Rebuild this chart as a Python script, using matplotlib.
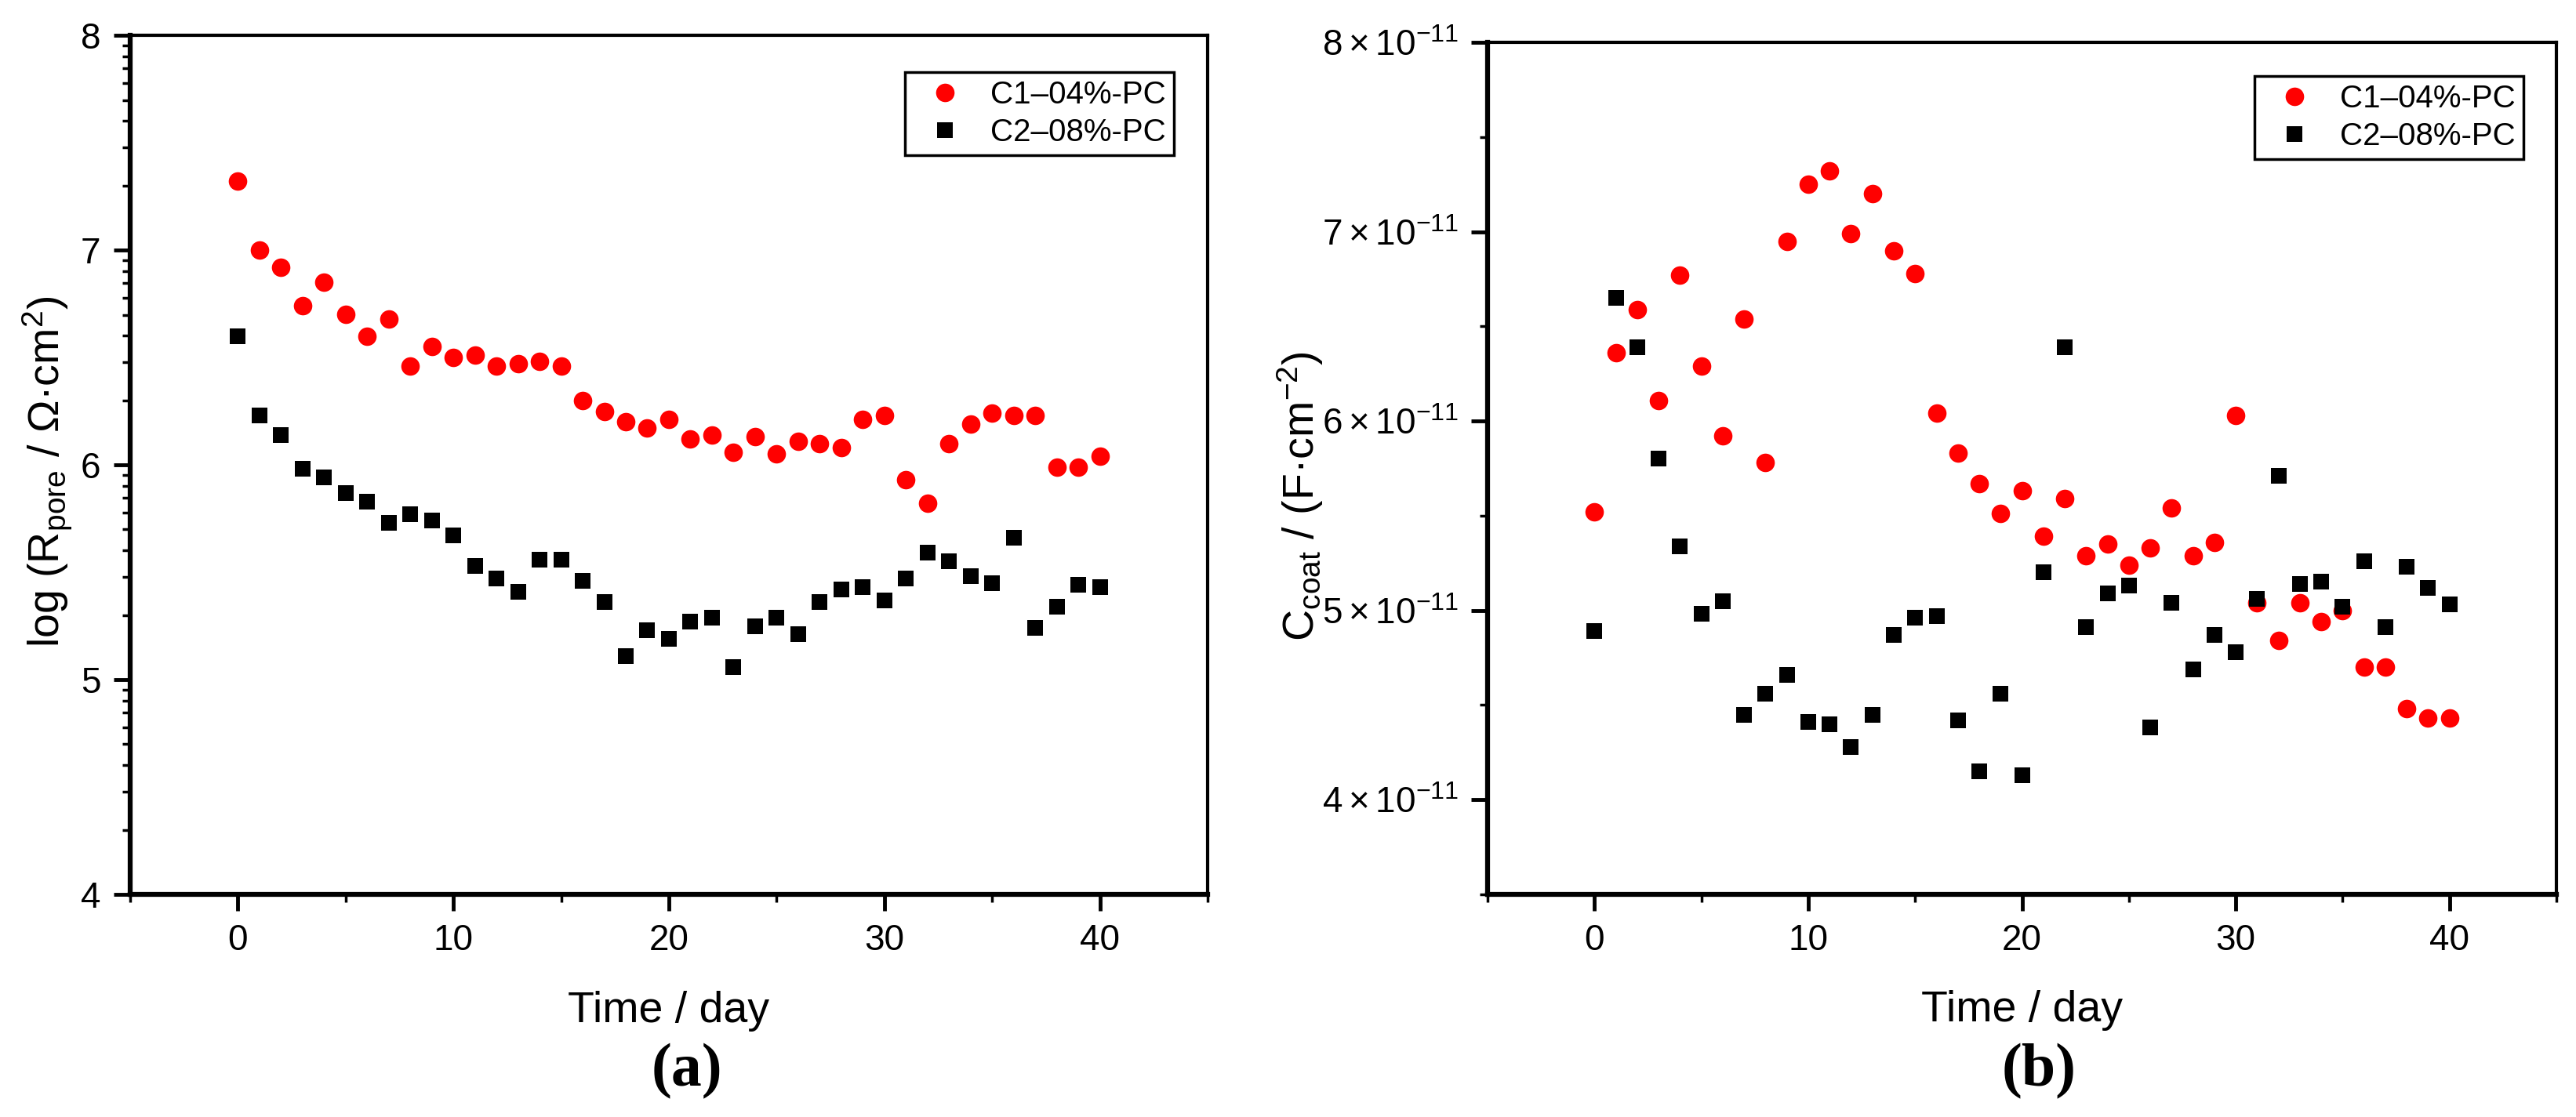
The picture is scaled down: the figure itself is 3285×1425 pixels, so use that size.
import numpy as np
import matplotlib
matplotlib.use('Agg')
import matplotlib.pyplot as plt
from matplotlib.ticker import MultipleLocator, FixedLocator, FuncFormatter

plt.rcParams['font.family'] = ['Liberation Sans', 'DejaVu Sans']
plt.rcParams['mathtext.fontset'] = 'custom'
plt.rcParams['mathtext.rm'] = 'Liberation Sans'
plt.rcParams['mathtext.it'] = 'Liberation Sans:italic'
plt.rcParams['mathtext.bf'] = 'Liberation Sans:bold'

# Days of immersion
days = list(range(41))
series_names = ['C1–04%-PC', 'C2–08%-PC']

# (a) log(R_pore / ohm cm2)
rpore_c1 = [7.32, 7.00, 6.92, 6.74, 6.85, 6.70, 6.60, 6.68, 6.46, 6.55,
            6.50, 6.51, 6.46, 6.47, 6.48, 6.46, 6.30, 6.25, 6.20, 6.17,
            6.21, 6.12, 6.14, 6.06, 6.13, 6.05, 6.11, 6.10, 6.08, 6.21,
            6.23, 5.93, 5.82, 6.10, 6.19, 6.24, 6.23, 6.23, 5.99, 5.99, 6.04]
rpore_c2 = [6.60, 6.23, 6.14, 5.98, 5.94, 5.87, 5.83, 5.73, 5.77, 5.74,
            5.67, 5.53, 5.47, 5.41, 5.56, 5.56, 5.46, 5.36, 5.11, 5.23,
            5.19, 5.27, 5.29, 5.06, 5.25, 5.29, 5.21, 5.36, 5.42, 5.43,
            5.37, 5.47, 5.59, 5.55, 5.48, 5.45, 5.66, 5.24, 5.34, 5.44, 5.43]

# (b) C_coat in F/cm2 (read in units of 1e-11)
ccoat_c1 = np.array([5.52, 6.36, 6.59, 6.11, 6.77, 6.29, 5.92, 6.54, 5.78, 6.95,
                     7.25, 7.32, 6.99, 7.20, 6.90, 6.78, 6.04, 5.83, 5.67, 5.51,
                     5.63, 5.39, 5.59, 5.29, 5.35, 5.24, 5.33, 5.54, 5.29, 5.36,
                     6.03, 5.04, 4.84, 5.04, 4.94, 5.00, 4.70, 4.70, 4.48, 4.43, 4.43]) * 1e-11
ccoat_c2 = np.array([4.89, 6.65, 6.39, 5.80, 5.34, 4.98, 5.05, 4.45, 4.56, 4.66,
                     4.41, 4.40, 4.28, 4.45, 4.87, 4.96, 4.97, 4.42, 4.15, 4.56,
                     4.13, 5.20, 6.39, 4.91, 5.09, 5.13, 4.38, 5.04, 4.69, 4.87,
                     4.78, 5.06, 5.71, 5.14, 5.15, 5.02, 5.26, 4.91, 5.23, 5.12, 5.03]) * 1e-11


def style_axes(ax):
    # thick left/bottom frame like the Origin export
    for side in ['left', 'bottom']:
        ax.spines[side].set_linewidth(4.5)
    for side in ['top', 'right']:
        ax.spines[side].set_linewidth(3)
    ax.tick_params(which='major', direction='out', length=15, width=3.5,
                   labelsize=33, pad=12)
    ax.tick_params(which='minor', direction='out', length=7, width=2.5)
    ax.set_xlim(-5, 45)
    ax.xaxis.set_major_locator(MultipleLocator(10))
    ax.xaxis.set_minor_locator(MultipleLocator(5))
    ax.set_xlabel('Time / day', fontsize=40)
    ax.xaxis.set_label_coords(0.5, -0.112)


def draw_points(ax, y1, y2, legend_anchor):
    ax.plot(days, y1, 'o', color='red', markersize=17, markeredgewidth=0,
            label=series_names[0])
    ax.plot(days, y2, 's', color='black', markersize=15, markeredgewidth=0,
            label=series_names[1])
    leg = ax.legend(loc='upper right', bbox_to_anchor=legend_anchor,
                    borderaxespad=0, fontsize=29, frameon=True, fancybox=False,
                    edgecolor='black', framealpha=1, borderpad=0.25,
                    labelspacing=0.25, handlelength=2.0, handletextpad=0.45)
    leg.get_frame().set_linewidth(2.5)


fig = plt.figure(figsize=(32.85, 14.25), dpi=100)

# (a) pore resistance
ax1 = fig.add_axes([0.0505, 0.1993, 0.4183, 0.7691])
draw_points(ax1, rpore_c1, rpore_c2, (0.9687, 0.9571))
style_axes(ax1)
ax1.set_ylim(4, 8)
ax1.yaxis.set_major_locator(MultipleLocator(1))
# log-type minor ticks, as in the original
ax1.yaxis.set_minor_locator(FixedLocator(
    [n + np.log10(k) for n in range(4, 8) for k in range(2, 10)]))
ax1.set_ylabel('log (R$_{\\mathrm{pore}}$ / Ω·cm$^{2}$)', fontsize=40)
ax1.yaxis.set_label_coords(-0.052, 0.492)

# (b) coating capacitance
ax2 = fig.add_axes([0.5775, 0.1993, 0.4149, 0.7628])
draw_points(ax2, ccoat_c1, ccoat_c2, (0.9692, 0.9604))
style_axes(ax2)
ax2.set_ylim(3.5e-11, 8e-11)
ax2.yaxis.set_major_locator(MultipleLocator(1e-11))
ax2.yaxis.set_minor_locator(MultipleLocator(0.5e-11))
ax2.yaxis.set_major_formatter(FuncFormatter(
    lambda v, pos: '$%d\\times10^{-11}$' % round(v * 1e11)))
ax2.set_ylabel('C$_{\\mathrm{coat}}$ / (F·cm$^{-2}$)', fontsize=40)
ax2.yaxis.set_label_coords(-0.152, 0.467)

fig.text(0.2667, 0.0407, '(a)', ha='center', va='center', fontsize=56,
         fontweight='bold', family='Liberation Serif')
fig.text(0.7915, 0.0407, '(b)', ha='center', va='center', fontsize=56,
         fontweight='bold', family='Liberation Serif')

fig.savefig('out.png', dpi=100)
